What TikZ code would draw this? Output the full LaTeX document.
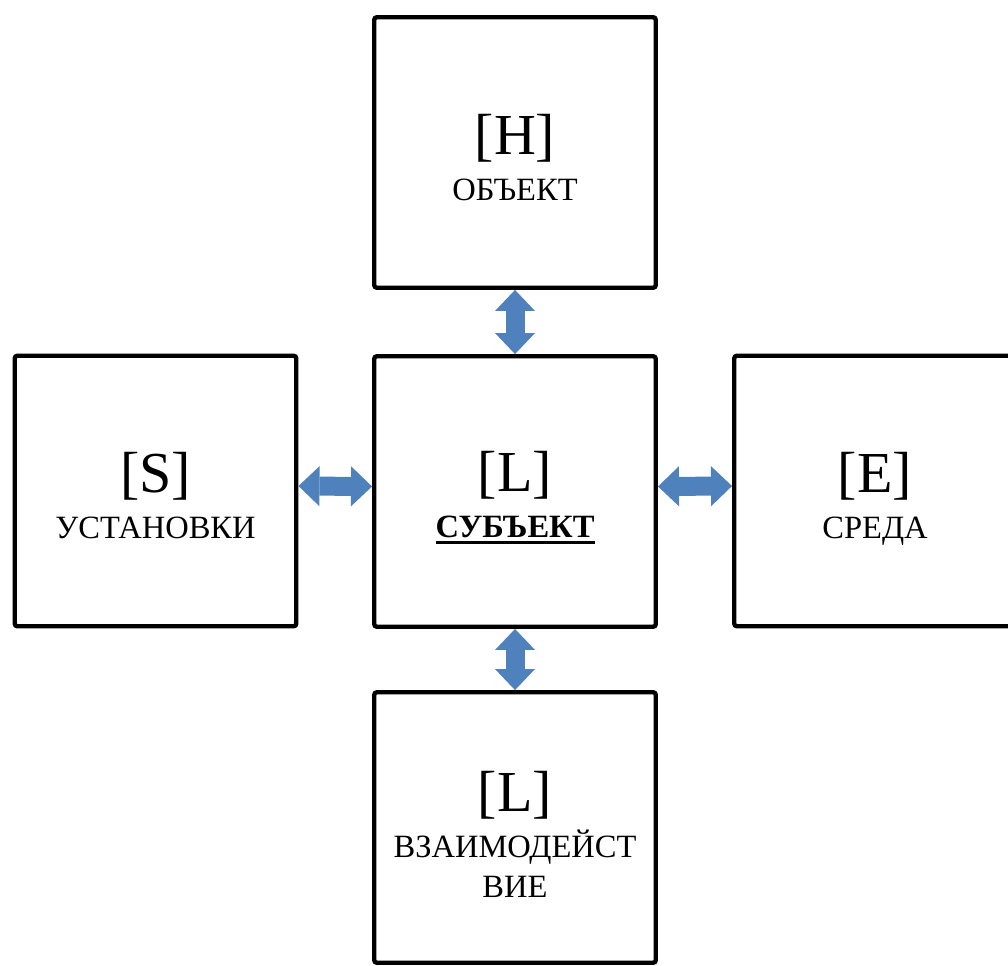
\documentclass[tikz,border=0pt]{standalone}
\usepackage{fontspec}
\newfontfamily\timescyr{Liberation Serif}
\usepackage{xcolor}
\usetikzlibrary{arrows.meta}
\definecolor{arrowblue}{RGB}{79,129,189}
\newcommand{\ulword}[1]{\setbox0\hbox{#1}\makebox[0pt][l]{\rule[-3.6pt]{\wd0}{1.8pt}}\box0}
\newcommand{\bigtag}[1]{{\fontsize{33}{33}\selectfont #1}}

\begin{document}
\begin{tikzpicture}[>={Triangle[width=0.8cm,length=0.42cm,line width=0pt]}]
  % Styles
  \tikzstyle{block}=[draw, line width=2.5pt, rounded corners=1.5pt, minimum width=5.63cm, minimum height=5.41cm]
  \tikzstyle{lbl}=[anchor=north, inner sep=0pt, align=center, font=\timescyr\fontsize{18.5}{26.4}\selectfont]
  \tikzstyle{link}=[<->, draw=arrowblue, line width=0.38cm]

  \useasboundingbox (0,0) rectangle (20.16,19.30);

  % Blocks
  \node[block] (obj) at (10.30,16.25) {};
  \node[block] (subj) at (10.30,9.47) {};
  \node[block] (set) at (3.11,9.48) {};
  \node[block] (env) at (17.50,9.48) {};
  \node[block] (inter) at (10.30,2.75) {};

  % Labels
  \node[lbl] (obj_lbl) at ([yshift=0.77cm]obj.center) {\bigtag{[H]}\\ОБЪЕКТ};
  \node[lbl] (subj_lbl) at ([yshift=0.81cm]subj.center) {\bigtag{[L]}\\\ulword{\bfseries СУБЪЕКТ}};
  \node[lbl] (set_lbl) at ([yshift=0.78cm]set.center) {\bigtag{[S]}\\УСТАНОВКИ};
  \node[lbl] (env_lbl) at ([yshift=0.78cm]env.center) {\bigtag{[E]}\\СРЕДА};
  \node[lbl] (inter_lbl) at ([yshift=1.13cm]inter.center) {\bigtag{[L]}\\ВЗАИМОДЕЙСТ\\[-3.7pt]ВИЕ};

  % Links
  \draw[link] (obj) -- (subj);
  \draw[link] (subj) -- (inter);
  \draw[link] ([yshift=0.1cm]set.east) -- ([yshift=0.1cm]subj.west);
  \draw[link] ([yshift=0.1cm]subj.east) -- ([yshift=0.1cm]env.west);
\end{tikzpicture}
\end{document}
